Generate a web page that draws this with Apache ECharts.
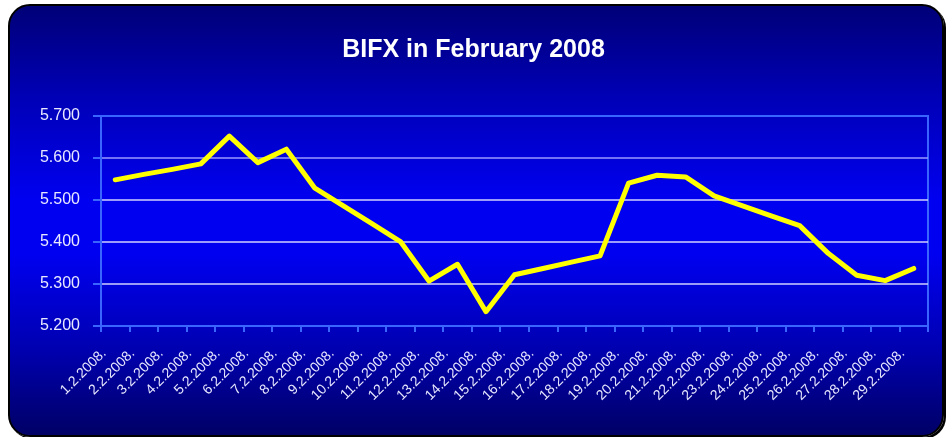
<!DOCTYPE html>
<html>
<head>
<meta charset="utf-8">
<script src="https://cdn.jsdelivr.net/npm/echarts@6/dist/echarts.min.js"></script>
<style>
  html, body { margin: 0; padding: 0; background: #fff; }
  #box {
    position: absolute; left: 8px; top: 4px; width: 932px; height: 429px;
    border: 2px solid #000; border-radius: 22px;
    box-shadow: 2px 2px 0 #000;
    background: linear-gradient(to bottom, #000078 0%, #0000b8 22%, #0000f0 45%, #0000f0 58%, #0000b0 80%, #000066 100%);
  }
  #chart { position: absolute; left: 0; top: 0; width: 947px; height: 437px; }
</style>
</head>
<body>
<div id="box"></div>
<div id="chart"></div>
<script>
// dates on the x axis
const days = [
  '1.2.2008.', '2.2.2008.', '3.2.2008.', '4.2.2008.', '5.2.2008.', '6.2.2008.',
  '7.2.2008.', '8.2.2008.', '9.2.2008.', '10.2.2008.', '11.2.2008.', '12.2.2008.',
  '13.2.2008.', '14.2.2008.', '15.2.2008.', '16.2.2008.', '17.2.2008.', '18.2.2008.',
  '19.2.2008.', '20.2.2008.', '21.2.2008.', '22.2.2008.', '23.2.2008.', '24.2.2008.',
  '25.2.2008.', '26.2.2008.', '27.2.2008.', '28.2.2008.', '29.2.2008.'
];

// BIFX index values
const bifx = [
  5.548, 5.561, 5.573, 5.586, 5.652, 5.589, 5.621, 5.528, 5.486, 5.444,
  5.401, 5.307, 5.347, 5.234, 5.322, 5.337, 5.352, 5.367, 5.540, 5.559,
  5.555, 5.510, 5.486, 5.462, 5.439, 5.373, 5.321, 5.308, 5.337
];

const yMin = 5.2;
const yMax = 5.7;
const yStep = 0.1;

const chart = echarts.init(document.getElementById('chart'));

chart.setOption({
  animation: false,
  title: {
    text: 'BIFX in February 2008',
    left: 'center',
    top: 33,
    textStyle: { color: '#fff', fontSize: 25, fontWeight: 'bold', fontFamily: 'Liberation Sans, Arial' }
  },
  grid: { left: 101, right: 19, top: 116, bottom: 111, show: true, borderColor: '#3a66ff', borderWidth: 2 },
  xAxis: {
    type: 'category',
    data: days,
    boundaryGap: true,
    axisLine: { lineStyle: { color: '#3a66ff', width: 2 } },
    axisTick: { show: true, length: 6, lineStyle: { color: '#3a66ff', width: 2 } },
    axisLabel: {
      interval: 0, rotate: 45, margin: 14, color: '#e8e8ff', fontSize: 14,
      padding: [0, 16, 0, 0],
      fontFamily: 'Liberation Sans, Arial'
    }
  },
  yAxis: {
    type: 'value',
    min: yMin,
    max: yMax,
    interval: yStep,
    axisLine: { show: true, lineStyle: { color: '#3a66ff', width: 2 } },
    axisTick: { show: true, length: 8, lineStyle: { color: '#3a66ff', width: 2 } },
    axisLabel: {
      margin: 21, color: '#e8e8ff', fontSize: 16, fontFamily: 'Liberation Sans, Arial',
      formatter: v => v.toFixed(3)
    },
    splitLine: {
      show: true,
      lineStyle: { color: ['#3a66ff', '#d0d0ff', '#d0d0ff', '#d0d0ff', '#9a9aff', '#3a66ff'], width: 1.5 }
    }
  },
  series: [{
    type: 'line',
    data: bifx,
    symbol: 'none',
    lineStyle: { color: '#ffff00', width: 5, join: 'round', cap: 'round' }
  }]
});
</script>
</body>
</html>
